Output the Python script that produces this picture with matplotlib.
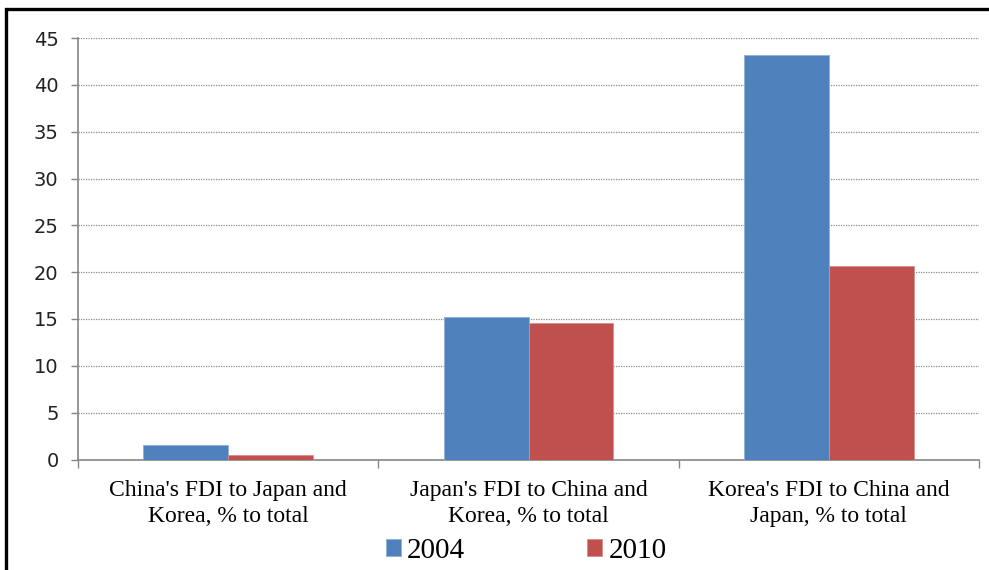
import matplotlib
matplotlib.use("Agg")
import matplotlib.pyplot as plt
import numpy as np
from matplotlib.patches import Rectangle

# data
categories = ["China's FDI to Japan and\nKorea, % to total",
              "Japan's FDI to China and\nKorea, % to total",
              "Korea's FDI to China and\nJapan, % to total"]
series_names = ["2004", "2010"]
values_2004 = [1.55, 15.2, 43.2]
values_2010 = [0.5, 14.6, 20.7]
y_ticks = [0, 5, 10, 15, 20, 25, 30, 35, 40, 45]

blue = "#4F81BD"
red = "#C0504D"

fig = plt.figure(figsize=(9.89, 5.7), dpi=100)
ax = fig.add_axes([78 / 989, 1 - 459.5 / 570, (979 - 78) / 989, (459.5 - 38) / 570])

x = np.arange(len(categories))
w = 0.283
ax.bar(x - w / 2, values_2004, width=w, color=blue, edgecolor="#8FB0D8",
       linewidth=0.6, label=series_names[0], zorder=3)
ax.bar(x + w / 2, values_2010, width=w, color=red, edgecolor="#D88C8A",
       linewidth=0.6, label=series_names[1], zorder=3)

ax.set_xlim(-0.5, len(categories) - 0.5)
ax.set_ylim(0, 45)
ax.set_yticks(y_ticks)
ax.set_yticklabels([str(v) for v in y_ticks], fontsize=14, family="DejaVu Sans",
                   color="#222222")
ax.tick_params(axis="y", length=5, width=1, color="#868686", pad=9)

# category labels at centres, tick marks at the boundaries
ax.set_xticks(x)
ax.set_xticklabels(categories, fontsize=17, family="Liberation Serif",
                   linespacing=1.3)
ax.tick_params(axis="x", which="major", length=0, pad=15)
ax.set_xticks(np.arange(len(categories) + 1) - 0.5, minor=True)
ax.tick_params(axis="x", which="minor", length=6, width=1, color="#868686")

ax.yaxis.grid(True, linestyle=(0, (1, 1)), color="#8c8c8c", linewidth=0.9)
ax.set_axisbelow(True)
for s in ["top", "right"]:
    ax.spines[s].set_visible(False)
for s in ["left", "bottom"]:
    ax.spines[s].set_color("#868686")
    ax.spines[s].set_linewidth(1.2)

leg = fig.legend(loc="center", bbox_to_anchor=(526 / 989, 1 - 551 / 570), ncol=2,
                 frameon=False, prop={"family": "Liberation Serif", "size": 21},
                 handlelength=0.52, handleheight=0.52, handletextpad=0.2,
                 columnspacing=4.2, borderpad=0)

# black frame around the chart (cut off at right and bottom)
fig.patches.append(Rectangle((6 / 989, -0.1), 1.1, 1 - 9 / 570 + 0.1,
                             transform=fig.transFigure, fill=False,
                             edgecolor="black", linewidth=2.4, zorder=10))

fig.savefig("out.png", dpi=100)
